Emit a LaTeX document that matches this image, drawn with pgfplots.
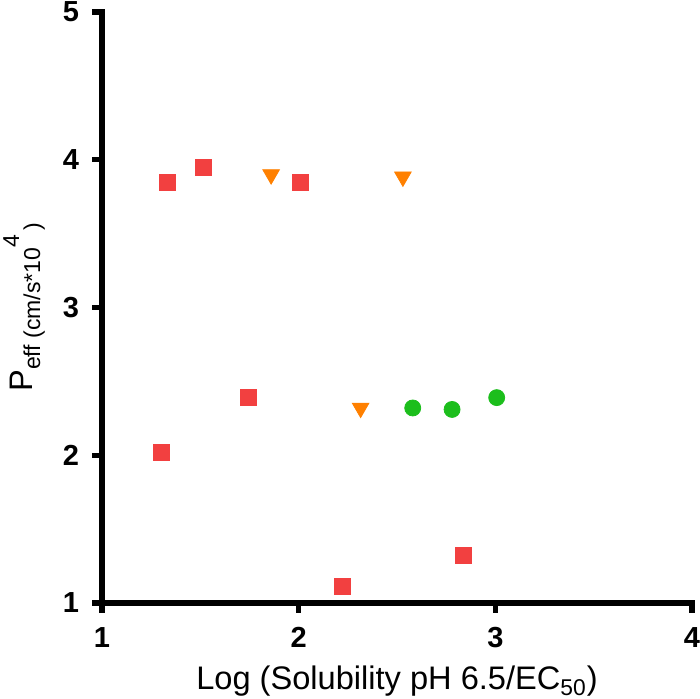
\documentclass[border=0pt]{standalone}
\usepackage{fontspec}
\setmainfont{Liberation Sans}
\usepackage{pgfplots}
\pgfplotsset{compat=1.18}
\definecolor{pred}{RGB}{242,64,64}
\definecolor{porange}{RGB}{255,128,0}
\definecolor{pgreen}{RGB}{28,190,28}
\begin{document}
\begin{tikzpicture}
\begin{axis}[
  scale only axis,
  width=295pt, height=295.5pt,
  xmin=1, xmax=4, ymin=1, ymax=5,
  xtick={1,2,3,4}, ytick={1,2,3,4,5},
  axis x line=bottom, axis y line=left,
  axis line style={-, line width=2.6pt, line cap=rect},
  tick align=outside,
  major tick length=5pt,
  tick style={line width=2.6pt, black},
  /pgf/number format/assume math mode=true,
  ticklabel style={font=\fontsize{14.5}{16}\selectfont\bfseries},
  xticklabel style={yshift=-3.5pt},
  yticklabel style={xshift=-3pt},
  xlabel={Log (Solubility pH 6.5/EC\textsubscript{50})},
  xlabel style={font=\fontsize{16.3}{19}\selectfont, at={(axis description cs:0.5,-0.147)}, anchor=base},
  ylabel={\fontsize{16.3}{19}\selectfont P\raisebox{-4pt}{\fontsize{11.5}{13}\selectfont eff (cm/s*10\raisebox{10.5pt}{4}\,)}},
  ylabel style={at={(axis description cs:-0.1186,0.5)}, anchor=base, rotate=0},
  clip=false,
]
\addplot[only marks, mark=square*, mark size=4pt, color=pred, mark options={draw=pred, fill=pred}] coordinates {
  (1.33,3.85) (1.515,3.945) (2.01,3.85) (1.30,2.02) (1.745,2.39) (2.22,1.115) (2.84,1.32)
};
\addplot[only marks, mark=triangle*, mark size=4.8pt, color=porange, mark options={rotate=180, draw=porange, fill=porange}] coordinates {
  (1.86,3.90) (2.53,3.885) (2.315,2.32)
};
\addplot[only marks, mark=*, mark size=4pt, color=pgreen, mark options={draw=pgreen, fill=pgreen}] coordinates {
  (2.58,2.32) (2.78,2.31) (3.007,2.39)
};
\end{axis}
\pgfresetboundingbox
\path (-51pt,-48pt) rectangle (299pt,301.5pt);
\end{tikzpicture}
\end{document}
